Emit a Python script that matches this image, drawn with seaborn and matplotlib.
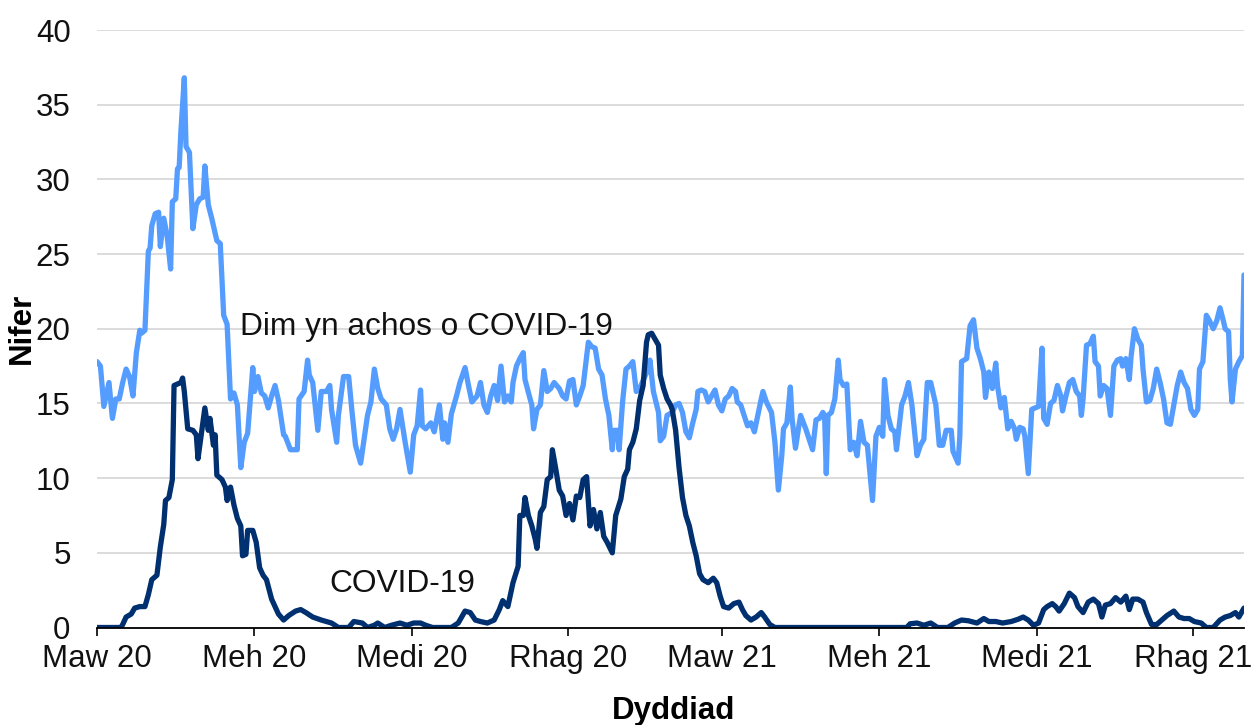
import numpy as np
import pandas as pd
import matplotlib
matplotlib.use('Agg')
import matplotlib.pyplot as plt
import seaborn as sns

# ==========================================
# Data (day offset from 1 Mar 2020)
# ==========================================
START = pd.Timestamp('2020-03-01')
END = pd.Timestamp('2021-12-31')

other_days = [
    0, 2, 4, 7, 9, 11, 13, 15, 17, 19, 21, 23, 25, 26, 28, 30, 31, 32, 34, 36,
    37, 39, 41, 43, 44, 46, 47, 48, 49, 51, 52, 54, 56, 58, 60, 62, 63, 65, 67, 70,
    72, 74, 76, 78, 80, 82, 84, 86, 88, 91, 92, 94, 96, 98, 100, 102, 104, 106, 109, 110,
    113, 117, 118, 121, 123, 124, 126, 129, 131, 134, 136, 137, 140, 141, 144, 147, 149, 151, 154, 156,
    158, 160, 162, 164, 166, 169, 171, 173, 175, 177, 180, 183, 185, 187, 189, 190, 192, 195, 197, 200,
    202, 203, 205, 207, 210, 212, 215, 217, 219, 222, 224, 226, 228, 230, 232, 234, 236, 238, 240, 242,
    243, 245, 247, 249, 250, 253, 254, 255, 257, 259, 261, 263, 265, 267, 270, 272, 274, 276, 278, 280,
    282, 284, 287, 289, 291, 293, 295, 297, 299, 301, 302, 304, 305, 307, 309, 311, 313, 315, 317, 320,
    322, 323, 325, 328, 329, 331, 333, 336, 338, 340, 342, 344, 346, 348, 350, 351, 353, 355, 357, 359,
    361, 363, 365, 367, 369, 371, 373, 374, 376, 378, 380, 382, 384, 386, 388, 389, 391, 394, 396, 398,
    400, 401, 403, 405, 406, 408, 410, 411, 414, 416, 418, 420, 422, 424, 425, 426, 427, 429, 431, 433,
    434, 436, 438, 440, 442, 444, 446, 448, 450, 453, 455, 457, 459, 460, 462, 464, 466, 467, 470, 472,
    474, 476, 479, 481, 483, 485, 487, 490, 492, 494, 496, 499, 500, 503, 504, 505, 508, 510, 512, 514,
    516, 518, 519, 521, 523, 525, 526, 528, 530, 532, 534, 536, 537, 539, 541, 542, 544, 546, 548, 550,
    552, 553, 555, 557, 559, 561, 563, 564, 566, 568, 570, 572, 574, 575, 576, 578, 580, 582, 583, 585,
    586, 588, 590, 592, 594, 596, 598, 599, 601, 603, 604, 606, 608, 610, 611, 613, 615, 617, 619, 621,
    623, 625, 627, 629, 631, 633, 635, 637, 639, 641, 643, 644, 646, 648, 650, 652, 654, 656, 658, 659,
    661, 662, 663, 665, 667, 669, 670,
]
other_vals = [
    17.8, 17.5, 14.8, 16.4, 14.0, 15.3, 15.3, 16.4, 17.3, 16.8, 15.5, 18.4, 19.9, 19.7, 19.9, 25.2, 25.4, 26.9, 27.7, 27.8,
    25.5, 27.4, 26.2, 24.0, 28.5, 28.7, 30.7, 30.8, 33.2, 36.8, 32.2, 31.8, 26.7, 28.3, 28.7, 28.8, 30.9, 28.3, 27.4, 25.9,
    25.7, 20.9, 20.3, 15.3, 15.7, 14.9, 10.7, 12.4, 13.0, 17.4, 15.8, 16.8, 15.7, 15.5, 14.7, 15.5, 16.2, 15.2, 12.9, 12.8,
    11.9, 11.9, 15.3, 15.8, 17.9, 16.9, 16.4, 13.2, 15.8, 15.8, 16.2, 14.6, 12.4, 14.2, 16.8, 16.8, 14.4, 12.2, 11.0, 12.6,
    14.2, 15.1, 17.3, 16.0, 15.3, 14.9, 13.3, 12.6, 13.3, 14.6, 12.4, 10.4, 12.9, 13.5, 15.9, 13.5, 13.3, 13.7, 13.1, 14.9,
    12.6, 13.7, 12.4, 14.3, 15.5, 16.4, 17.4, 16.2, 15.1, 15.5, 16.4, 14.9, 14.4, 15.5, 16.2, 15.2, 17.5, 15.1, 15.5, 15.1,
    16.4, 17.5, 18.0, 18.4, 16.6, 15.3, 14.9, 13.3, 14.6, 14.9, 17.2, 15.8, 16.0, 16.4, 16.0, 15.5, 15.3, 16.5, 16.6, 14.9,
    15.5, 16.2, 19.1, 18.8, 18.7, 17.3, 16.9, 15.3, 14.2, 11.9, 13.2, 13.2, 11.9, 15.1, 17.3, 17.5, 17.8, 15.8, 16.0, 16.8,
    17.3, 17.9, 15.8, 14.4, 12.5, 12.8, 14.2, 14.4, 14.9, 15.0, 14.4, 13.1, 12.7, 13.7, 14.6, 15.8, 15.9, 15.8, 15.1, 15.5,
    15.9, 14.9, 14.5, 15.3, 15.5, 16.0, 15.8, 15.1, 14.9, 14.2, 13.5, 13.7, 13.1, 14.2, 15.3, 15.8, 15.1, 14.4, 12.4, 9.2,
    11.5, 13.3, 13.7, 16.1, 14.0, 12.0, 13.5, 14.2, 13.3, 12.6, 11.9, 13.9, 14.0, 14.4, 14.2, 10.3, 14.2, 14.4, 15.3, 17.9,
    16.6, 16.2, 16.3, 11.9, 12.4, 11.5, 13.8, 12.4, 12.2, 8.5, 12.8, 13.4, 12.8, 16.6, 14.2, 13.3, 13.1, 11.9, 14.9, 15.5,
    16.4, 14.9, 11.5, 12.2, 12.6, 16.4, 16.4, 14.9, 12.2, 12.2, 13.2, 13.2, 11.8, 11.0, 12.8, 17.8, 18.0, 20.2, 20.6, 18.7,
    18.0, 17.1, 15.4, 17.1, 16.0, 17.7, 16.2, 14.7, 15.4, 13.3, 13.8, 13.3, 12.6, 13.4, 13.3, 12.8, 10.3, 14.6, 14.7, 14.8,
    18.7, 14.0, 13.6, 15.0, 15.2, 16.2, 15.5, 14.5, 15.5, 16.4, 16.6, 15.8, 15.5, 14.2, 15.3, 18.9, 19.0, 19.5, 17.8, 17.5,
    15.5, 16.2, 16.0, 14.2, 17.5, 17.9, 18.0, 17.5, 18.0, 16.6, 18.1, 20.0, 19.3, 18.9, 17.3, 15.1, 15.2, 16.0, 17.3, 16.4,
    15.3, 13.7, 13.6, 14.9, 16.2, 17.1, 16.4, 16.0, 14.6, 14.2, 14.6, 17.3, 17.8, 20.9, 20.5, 20.0, 20.5, 21.4, 20.5, 20.0,
    19.8, 16.6, 15.1, 17.3, 17.8, 18.2, 23.6,
]

covid_days = [
    0, 14, 15, 17, 20, 22, 25, 28, 30, 32, 35, 37, 39, 40, 42, 44, 45, 47, 49, 50,
    51, 53, 56, 58, 59, 61, 63, 65, 66, 68, 69, 70, 73, 75, 76, 78, 80, 82, 84, 85,
    87, 88, 91, 93, 95, 97, 99, 102, 104, 106, 109, 112, 116, 119, 122, 126, 131, 137, 141, 147,
    150, 155, 158, 162, 164, 168, 172, 177, 181, 185, 189, 192, 196, 207, 211, 215, 218, 221, 224, 228,
    232, 235, 237, 240, 243, 246, 247, 249, 250, 252, 254, 256, 257, 259, 261, 263, 265, 266, 268, 270,
    272, 274, 276, 278, 280, 282, 284, 286, 288, 290, 292, 294, 296, 298, 301, 303, 306, 308, 310, 311,
    313, 315, 317, 319, 321, 322, 324, 326, 328, 329, 331, 333, 335, 336, 338, 340, 342, 344, 346, 348,
    350, 352, 354, 357, 360, 362, 364, 366, 369, 372, 375, 377, 379, 382, 385, 388, 390, 393, 396, 473,
    475, 479, 483, 487, 491, 497, 501, 505, 509, 514, 518, 521, 525, 529, 534, 538, 541, 544, 547, 550,
    553, 555, 558, 560, 562, 565, 568, 571, 573, 576, 579, 582, 585, 587, 589, 592, 595, 598, 601, 603,
    605, 608, 611, 613, 616, 619, 622, 625, 629, 632, 635, 638, 641, 645, 648, 652, 656, 659, 662, 665,
    667, 669, 670,
]
covid_vals = [
    0.0, 0.0, 0.2, 0.7, 0.9, 1.3, 1.4, 1.4, 2.2, 3.2, 3.5, 5.4, 6.9, 8.5, 8.7, 9.9, 16.2, 16.3, 16.4, 16.7,
    15.8, 13.3, 13.2, 12.9, 11.3, 13.0, 14.7, 13.2, 14.0, 12.2, 12.9, 10.2, 9.9, 9.4, 8.5, 9.4, 8.2, 7.3, 6.8, 4.8,
    4.9, 6.5, 6.5, 5.7, 4.0, 3.5, 3.2, 1.9, 1.4, 0.9, 0.5, 0.8, 1.1, 1.2, 1.0, 0.7, 0.5, 0.3, 0.0, 0.0,
    0.4, 0.3, 0.0, 0.15, 0.3, 0.0, 0.15, 0.3, 0.15, 0.3, 0.3, 0.15, 0.0, 0.0, 0.3, 1.1, 1.0, 0.5, 0.4, 0.3,
    0.5, 1.2, 1.8, 1.4, 3.0, 4.1, 7.5, 7.5, 8.7, 7.5, 6.8, 5.9, 5.3, 7.7, 8.1, 9.9, 10.1, 11.9, 10.6, 9.2,
    8.8, 7.5, 8.3, 7.2, 8.8, 8.7, 9.9, 10.1, 6.8, 7.9, 6.6, 7.7, 6.1, 5.7, 5.0, 7.5, 8.6, 10.1, 10.6, 11.9,
    12.4, 13.3, 15.2, 16.2, 19.1, 19.6, 19.7, 19.3, 18.9, 16.9, 16.0, 15.3, 14.9, 14.6, 13.2, 10.7, 8.7, 7.5, 6.8, 5.7,
    4.8, 3.6, 3.2, 3.0, 3.3, 3.0, 2.1, 1.4, 1.3, 1.6, 1.7, 1.2, 0.8, 0.5, 0.7, 1.0, 0.7, 0.2, 0.0, 0.0,
    0.25, 0.3, 0.15, 0.3, 0.0, 0.0, 0.3, 0.5, 0.45, 0.3, 0.6, 0.4, 0.4, 0.3, 0.4, 0.55, 0.7, 0.5, 0.15, 0.3,
    1.2, 1.4, 1.6, 1.4, 1.1, 1.6, 2.3, 2.0, 1.4, 1.0, 1.7, 1.9, 1.6, 0.7, 1.5, 1.6, 2.0, 1.7, 2.1, 1.2,
    1.9, 1.9, 1.7, 1.0, 0.2, 0.2, 0.5, 0.8, 1.1, 0.7, 0.6, 0.6, 0.4, 0.3, 0.0, 0.0, 0.5, 0.7, 0.8, 1.0,
    0.7, 1.1, 1.3,
]

tick_dates = ['2020-03-01', '2020-06-01', '2020-09-01', '2020-12-01',
              '2021-03-01', '2021-06-01', '2021-09-01', '2021-12-01']
tick_labels = ['Maw 20', 'Meh 20', 'Medi 20', 'Rhag 20',
               'Maw 21', 'Meh 21', 'Medi 21', 'Rhag 21']

LIGHT = '#559cff'
DARK = '#00306f'

# ==========================================
# Build frames
# ==========================================
df_other = pd.DataFrame({'date': START + pd.to_timedelta(other_days, unit='D'), 'n': other_vals})
df_covid = pd.DataFrame({'date': START + pd.to_timedelta(covid_days, unit='D'), 'n': covid_vals})

# ==========================================
# Plot
# ==========================================
sns.set_theme(style='white')
plt.rcParams['font.family'] = ['Liberation Sans', 'DejaVu Sans']

fig = plt.figure(figsize=(12.52, 7.25), dpi=100)
ax = fig.add_axes([97 / 1252, 1 - 627.5 / 725, 1147 / 1252, 597.5 / 725])

sns.lineplot(data=df_other, x='date', y='n', color=LIGHT, linewidth=3.8,
             estimator=None, sort=False, ax=ax)
sns.lineplot(data=df_covid, x='date', y='n', color=DARK, linewidth=3.8,
             estimator=None, sort=False, ax=ax)

ax.set_xlim(START, END)
ax.set_ylim(0, 40)
ax.set_yticks(np.arange(0, 41, 5))
ax.yaxis.grid(True, color='#d9d9d9', linewidth=1.3)
ax.set_axisbelow(True)

ax.set_xticks(pd.to_datetime(tick_dates))
ax.set_xticklabels(tick_labels)

for s in ['top', 'right', 'left']:
    ax.spines[s].set_visible(False)
ax.spines['bottom'].set_color('black')
ax.spines['bottom'].set_linewidth(1.3)

ax.tick_params(axis='x', direction='out', length=6, width=1.2, color='black',
               pad=6, labelsize=22.5, labelcolor='#111111', bottom=True)
ax.tick_params(axis='y', length=0, pad=19, labelsize=22.5, labelcolor='#111111')

ax.set_ylabel('Nifer', fontsize=22.5, fontweight='bold', color='black')
ax.yaxis.set_label_coords(-0.052, 0.5)
ax.set_xlabel('Dyddiad', fontsize=22.5, fontweight='bold', color='black')
ax.xaxis.set_label_coords(0.503, -0.153)
ax.xaxis.label.set_verticalalignment('baseline')

ax.text(START + pd.Timedelta(days=83.5), 19.6, 'Dim yn achos o COVID-19',
        fontsize=22.8, color='#111111', ha='left', va='baseline')
ax.text(START + pd.Timedelta(days=136), 2.4, 'COVID-19',
        fontsize=22.8, color='#111111', ha='left', va='baseline')

fig.savefig('out.png', dpi=100)
